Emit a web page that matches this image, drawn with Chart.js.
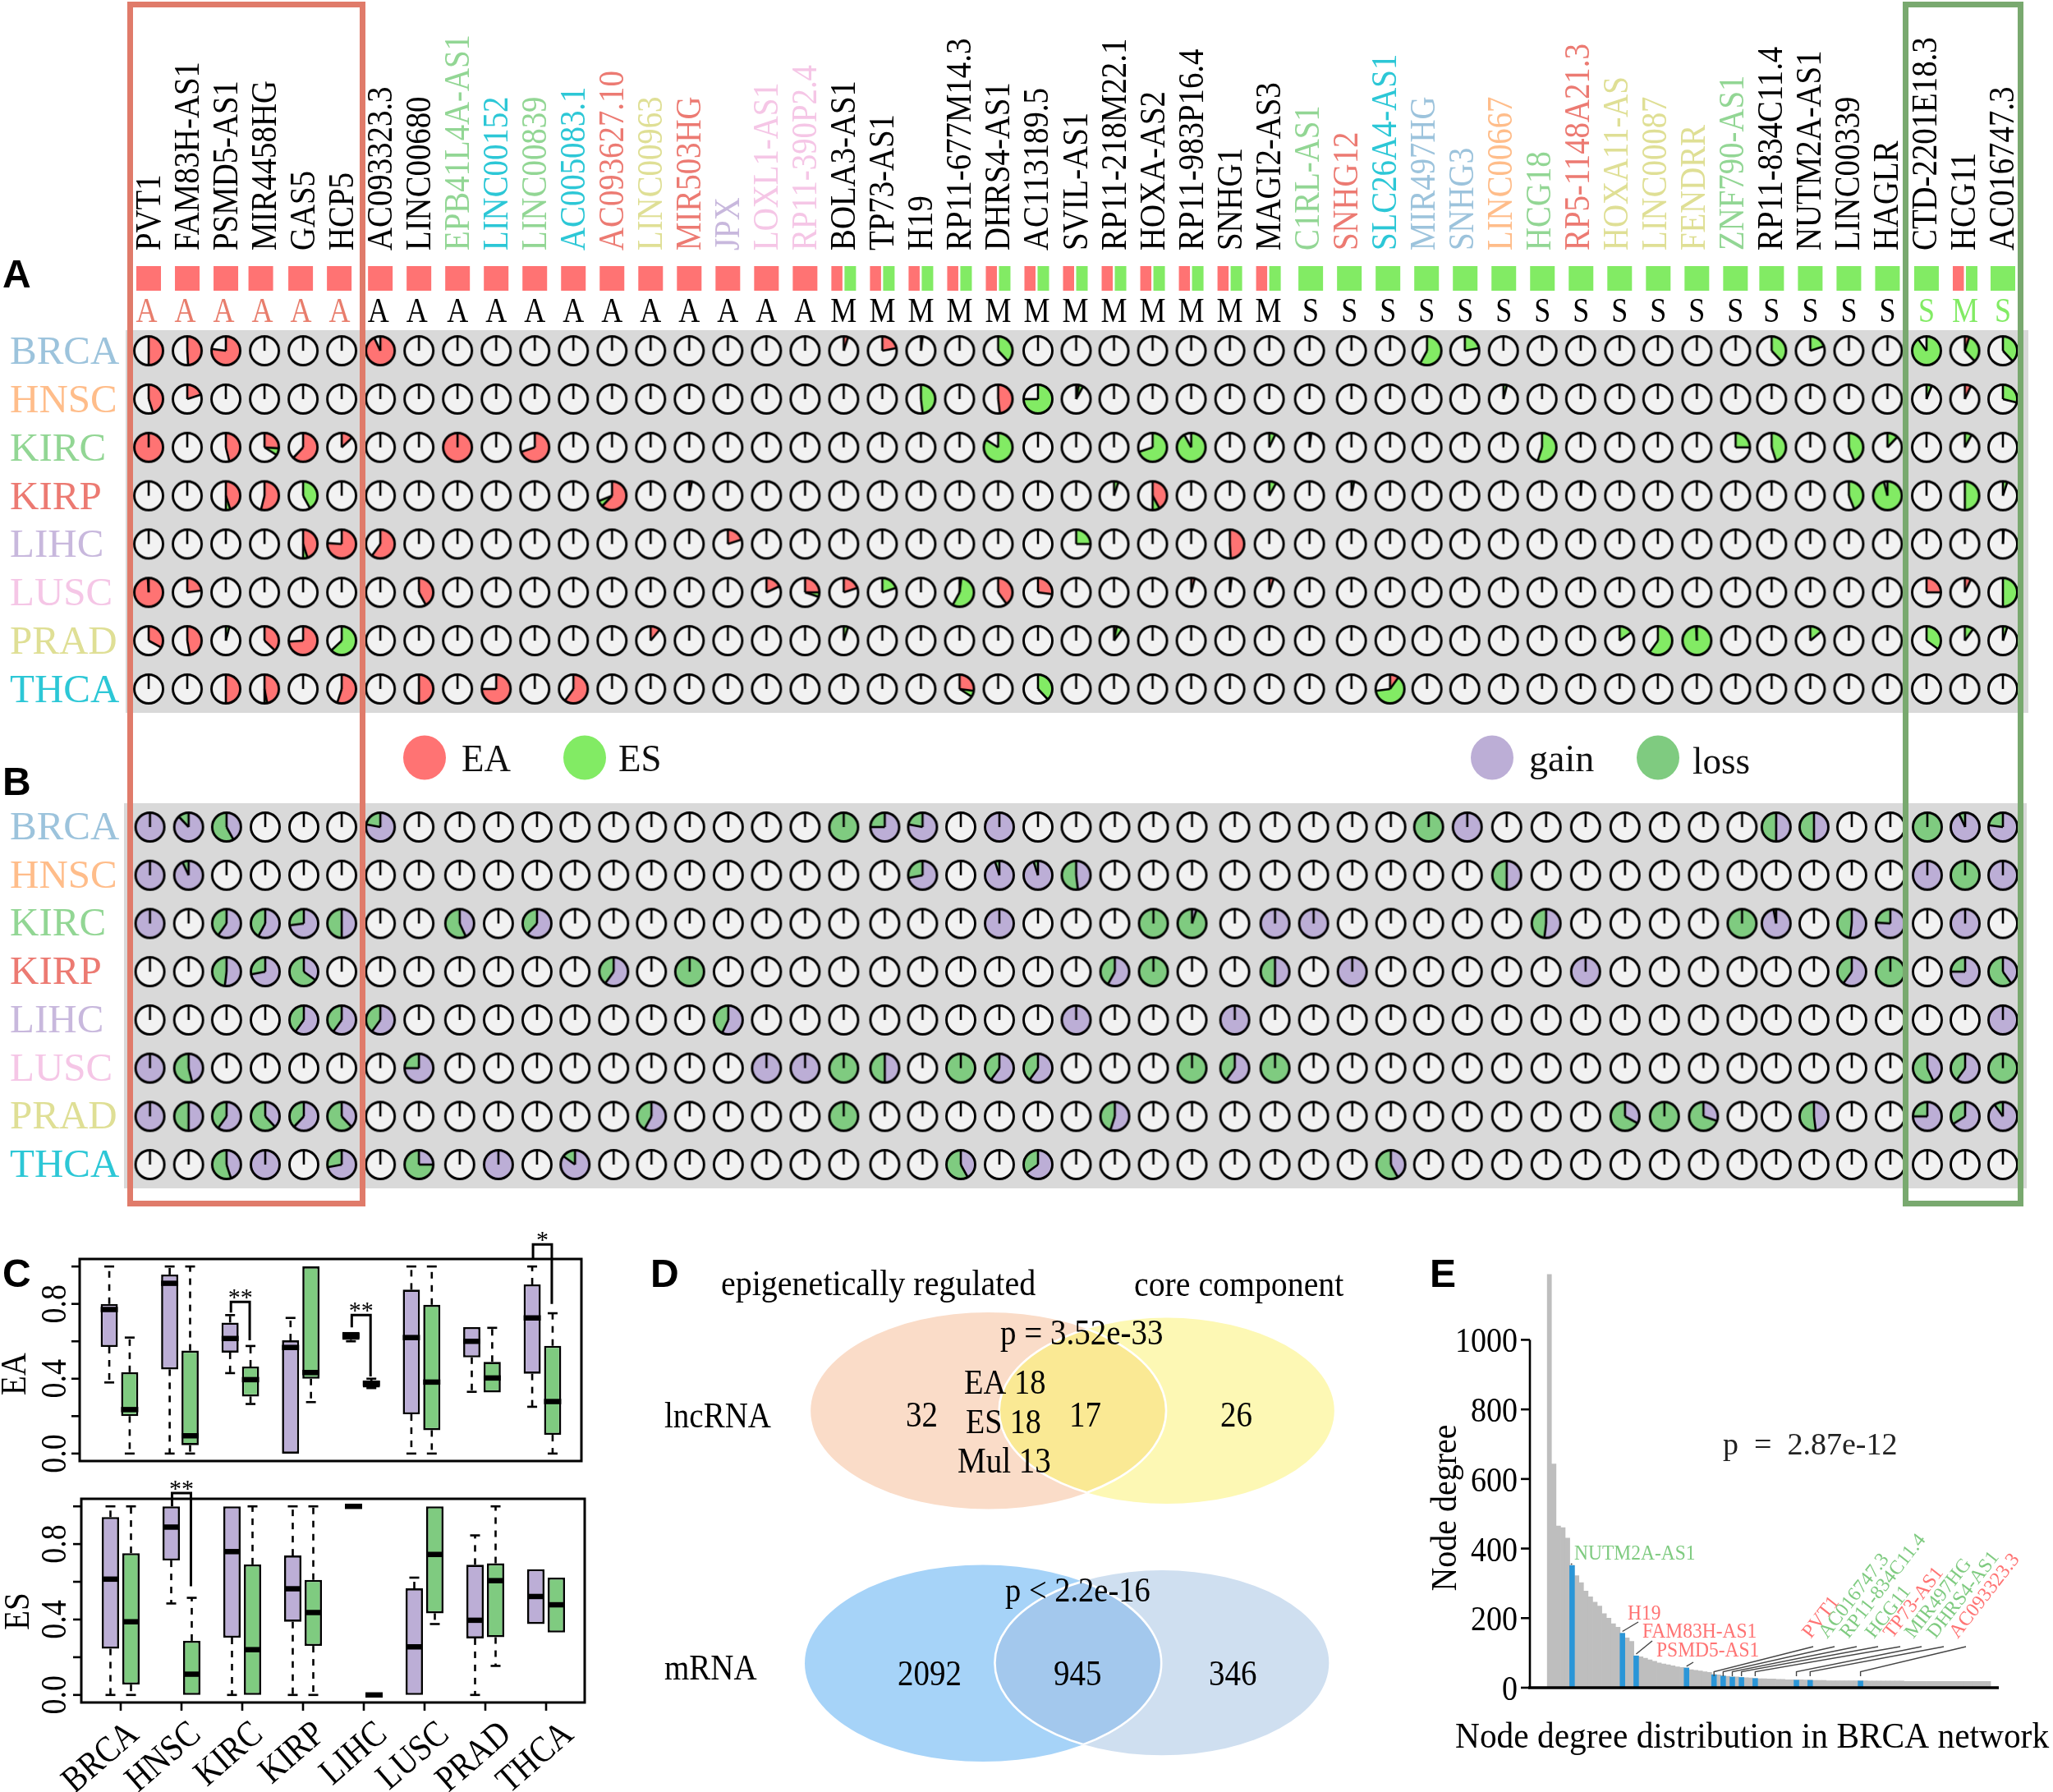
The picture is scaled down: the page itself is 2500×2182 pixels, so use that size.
<!DOCTYPE html>
<html>
<head>
<meta charset="utf-8">
<title>Epigenetically regulated lncRNAs</title>
<script src="https://cdn.jsdelivr.net/npm/chart.js@4"></script>
<style>
  body { margin: 0; background: #fff; width: 2500px; height: 2182px; position: relative; overflow: hidden; }
  canvas { position: absolute; left: 0; top: 0; }
  .hl { position: absolute; box-sizing: border-box; border: 7px solid; z-index: 5; }
</style>
</head>
<body>
<div class="hl" style="left:155px;top:2px;width:290px;height:1467px;border-color:#e07b6a"></div>
<div class="hl" style="left:2317px;top:2px;width:147px;height:1467px;border-color:#79a96f"></div>
<script>
const PAGE_W = 2500, PAGE_H = 2182;
const SERIF = '"Liberation Serif"';

// panels A and B
const genes = ['PVT1','FAM83H-AS1','PSMD5-AS1','MIR4458HG','GAS5','HCP5','AC093323.3','LINC00680','EPB41L4A-AS1','LINC00152','LINC00839','AC005083.1','AC093627.10','LINC00963','MIR503HG','JPX','LOXL1-AS1','RP11-390P2.4',
  'BOLA3-AS1','TP73-AS1','H19','RP11-677M14.3','DHRS4-AS1','AC113189.5','SVIL-AS1','RP11-218M22.1','HOXA-AS2','RP11-983P16.4','SNHG1','MAGI2-AS3',
  'C1RL-AS1','SNHG12','SLC26A4-AS1','MIR497HG','SNHG3','LINC00667','HCG18','RP5-1148A21.3','HOXA11-AS','LINC00087','FENDRR','ZNF790-AS1','RP11-834C11.4','NUTM2A-AS1','LINC00339','HAGLR','CTD-2201E18.3','HCG11','AC016747.3'];
const geneClass = ['A','A','A','A','A','A','A','A','A','A','A','A','A','A','A','A','A','A',
  'M','M','M','M','M','M','M','M','M','M','M','M',
  'S','S','S','S','S','S','S','S','S','S','S','S','S','S','S','S','S','M','S'];
const geneTissue = [-1,-1,-1,-1,-1,-1,-1,-1,2,7,2,7,3,6,3,4,5,5,
  -1,-1,-1,-1,-1,-1,-1,-1,-1,-1,-1,-1,
  2,3,7,0,0,1,2,3,6,6,6,2,-1,-1,-1,-1,-1,-1,-1];
const tissues = ['BRCA','HNSC','KIRC','KIRP','LIHC','LUSC','PRAD','THCA'];
const tissueColors = ['#9cc3dc','#ffbd8a','#92d694','#ec7a72','#c8b8dd','#f5c6e6','#dfdf95','#2cc7d6'];

// fraction of each pie, as [gene index, fraction]; genes not listed are empty
const ea_BRCA = [[0,.5],[1,.49],[2,.77],[6,.93],[18,.05],[19,.22],[20,.02],[47,.05]];
const es_BRCA = [[22,.38],[33,.58],[34,.22],[42,.38],[43,.2],[46,.9],[47,.33],[48,.38]];
const ea_HNSC = [[0,.45],[1,.2],[22,.48],[24,.03],[47,.07]];
const es_HNSC = [[20,.48],[23,.75],[24,.05],[35,.04],[46,.06],[48,.29]];
const ea_KIRC = [[0,1],[2,.46],[3,.26],[4,.62],[5,.13],[8,1],[10,.7]];
const es_KIRC = [[3,.08],[22,.84],[26,.7],[27,.92],[29,.07],[30,.02],[36,.55],[41,.25],[42,.45],[44,.44],[45,.12],[47,.08]];
const ea_KIRP = [[2,.45],[3,.54],[12,.62],[14,.03],[26,.42]];
const es_KIRP = [[2,.05],[4,.42],[12,.07],[25,.05],[26,.08],[29,.08],[31,.03],[37,.01],[44,.44],[45,.96],[47,.5],[48,.05]];
const ea_LIHC = [[4,.45],[5,.76],[6,.6],[15,.2],[28,.49]];
const es_LIHC = [[4,.05],[24,.25],[48,.01]];
const ea_LUSC = [[0,.99],[1,.23],[7,.42],[16,.18],[17,.25],[18,.2],[21,.02],[22,.4],[23,.27],[27,.04],[29,.05],[46,.25],[47,.07]];
const es_LUSC = [[17,.05],[19,.2],[21,.56],[28,.02],[48,.5]];
const ea_PRAD = [[0,.33],[1,.47],[3,.37],[4,.74],[13,.11],[25,.03]];
const es_PRAD = [[2,.04],[5,.63],[18,.05],[25,.07],[38,.15],[39,.6],[40,.99],[43,.14],[46,.35],[47,.1],[48,.05]];
const ea_THCA = [[2,.5],[3,.47],[5,.55],[7,.5],[9,.75],[11,.6],[21,.27],[32,.1]];
const es_THCA = [[3,.03],[21,.07],[23,.38],[32,.63]];

const gain_BRCA = [[0,1],[1,.88],[2,.42],[6,.78],[19,.75],[20,.78],[22,1],[34,1],[42,.5],[43,.5],[47,.93],[48,.77]];
const loss_BRCA = [[1,.12],[2,.58],[6,.22],[18,1],[19,.25],[20,.22],[33,1],[42,.5],[43,.5],[46,1],[47,.07],[48,.23]];
const gain_HNSC = [[0,1],[1,.93],[20,.72],[22,.95],[23,.95],[24,.48],[35,.5],[46,1],[48,1]];
const loss_HNSC = [[1,.07],[20,.28],[22,.05],[23,.05],[24,.52],[35,.5],[47,1]];
const gain_KIRC = [[0,1],[2,.6],[3,.58],[4,.73],[5,.5],[8,.43],[10,.62],[22,1],[27,.05],[29,1],[30,1],[36,.52],[42,.97],[44,.52],[45,.76],[47,1]];
const loss_KIRC = [[2,.4],[3,.42],[4,.27],[5,.5],[8,.57],[10,.38],[26,1],[27,.95],[36,.48],[41,1],[42,.03],[44,.48],[45,.24]];
const gain_KIRP = [[2,.52],[3,.72],[4,.35],[12,.6],[25,.58],[29,.5],[31,1],[37,1],[44,.6],[47,.75],[48,.4]];
const loss_KIRP = [[2,.48],[3,.28],[4,.65],[12,.4],[14,1],[25,.42],[26,1],[29,.5],[44,.4],[45,1],[47,.25],[48,.6]];
const gain_LIHC = [[4,.6],[5,.6],[6,.6],[15,.57],[24,1],[28,1],[48,1]];
const loss_LIHC = [[4,.4],[5,.4],[6,.4],[15,.43]];
const gain_LUSC = [[0,1],[1,.46],[7,.75],[16,1],[17,1],[19,.5],[22,.6],[23,.6],[28,.6],[46,.43],[47,.6]];
const loss_LUSC = [[1,.54],[7,.25],[18,1],[19,.5],[21,1],[22,.4],[23,.4],[27,1],[28,.4],[29,1],[46,.57],[47,.4],[48,1]];
const gain_PRAD = [[0,1],[1,.5],[2,.6],[3,.38],[4,.62],[5,.38],[13,.58],[25,.55],[38,.33],[40,.3],[43,.48],[46,.75],[47,.66],[48,.9]];
const loss_PRAD = [[1,.5],[2,.4],[3,.62],[4,.38],[5,.62],[13,.42],[18,1],[25,.45],[38,.67],[39,1],[40,.7],[43,.52],[46,.25],[47,.34],[48,.1]];
const gain_THCA = [[2,.45],[3,1],[5,.72],[7,.25],[9,1],[11,.85],[21,.42],[23,.65],[32,.42]];
const loss_THCA = [[2,.55],[5,.28],[7,.75],[11,.15],[21,.58],[23,.35],[32,.58]];

// panel C, order follows tissues
const eaGainQ1 = [.57,.45,.54,0,.608,.21,.514,.427];
const eaGainQ3 = [.80,.957,.70,.605,.65,.876,.676,.904];
const eaGainMed = [.77,.91,.615,.567,.63,.62,.60,.725];
const eaGainLo = [.38,0,.43,0,.60,0,.33,.25];
const eaGainHi = [1,1,.74,.725,.65,1,.676,1];
const eaLossQ1 = [.20,.045,.305,.40,.353,.125,.327,.10];
const eaLossQ3 = [.435,.55,.465,1,.39,.795,.49,.576];
const eaLossMed = [.235,.095,.395,.433,.375,.382,.404,.278];
const eaLossLo = [0,0,.265,.275,.35,0,.327,0];
const eaLossHi = [.62,1,.575,1,.40,1,.672,.75];
const esGainQ1 = [.245,.713,.304,.388,.995,0,.30,.376];
const esGainQ3 = [.943,1,1,.739,1,.565,.69,.667];
const esGainMed = [.614,.89,.76,.563,1,.255,.396,.522];
const esGainLo = [0,.485,0,0,.995,0,0,.376];
const esGainHi = [1,1,1,1,1,.622,.846,.667];
const esLossQ1 = [.055,0,0,.26,0,.433,.306,.331];
const esLossQ3 = [.752,.287,.692,.61,.005,1,.698,.622];
const esLossMed = [.388,.11,.24,.437,0,.745,.606,.478];
const esLossLo = [0,0,0,0,0,.376,.154,.331];
const esLossHi = [1,.515,1,1,.005,1,1,.622];
// [tissue index, bracket top, left leg end, right leg end, stars]
const eaBrackets = [[2,.811,.754,.605,'**'],[4,.74,.675,.412,'**'],[7,1.118,1.04,.80,'*']];
const esBrackets = [[1,1.07,1,.576,'**']];
const boxTicks = [0,.2,.4,.6,.8,1];
const boxTickLabels = ['0.0','','0.4','','0.8',''];

// panel D, in axis units of the venn chart
const vennCx = [34.4,67.8,33.4,66.9];
const vennCy = [21.9,21.9,78.1,78];
const vennRx = [33.3,31.4,33.4,31.3];
const vennRy = [21.9,20.7,21.9,20.6];
const vennColors = ['#fadcc8','#fdf8b4','#a6d3f8','#cfdff0'];
const vennOverlap = ['#fae994','#a3c8ed'];

// panel E
const nodeDegree = [1188,643,465,460,430,352,322,302,278,261,
  246,235,213,200,184,174,157,143,133,92,
  89,85,80,76,71,68,66,63,60,58,
  57,52,50,48,46,44,38,37,34,33,
  31,31,30,29,28,27,26,26,25,25,
  24,24,23,23,22.5,23,22,22,21,21,
  21,20,20,20,20,20,20,20,20,20,
  19,19,19,19,19,19,19,19,18,18,
  18,18,18,18,18,18,18,18,18,18,
  18,18,18,18,18,18,18];
const degreeTicks = [0,200,400,600,800,1000];
const markedBars = [5,16,19,30,36,38,40,42,45,54,57,68];
const markedNames = ['NUTM2A-AS1','H19','FAM83H-AS1','PSMD5-AS1','PVT1','AC016747.3','RP11-834C11.4','HCG11','TP73-AS1','MIR497HG','DHRS4-AS1','AC093323.3'];

// the columns of the original are not quite evenly spaced, pixels per gene
const colShiftA = [0,0,0,0,0,0,0,0,0,0,0,0,0,0,0,0,0,0,0,0,0,0,0,
  1.5,1,0,0,0,0,1,3,7,7,5,4,4,4,4,4.5,4,4.5,4.6,1.5,1.5,1.5,1.5,2,1.6,1];
const colShiftB = [1.6,1.6,.8,.9,.9,0,0,0,2.6,2.7,2.7,2,2,1,.5,.5,0,0,0,3,2,1.5,1.5,
  1.5,1,1,1,1,6,8,8,8,8,7,7,8,9,10,11,12,12.5,12.5,7,6,5,5,3,2,1];
const trackShift = [0,0,0,-4.5,-3,-3,0,0,0,0,0,0,0,0,0,0,0,0,0,0,0,0,0,0,0,0,0,0,0,0,
  4.5,4.5,4.5,4.5,4.5,4.5,4.5,4.5,4.5,4.5,4.5,4.5,1.5,1.5,1.5,1.5,2,2,1];

const RED = '#ff7373', LIME = '#82eb64', GAIN = '#bcaed6', LOSS = '#7fcb80';

function addCanvas() {
  const c = document.createElement('canvas');
  c.width = PAGE_W;
  c.height = PAGE_H;
  document.body.appendChild(c);
  return c;
}

function box(l, t, r, b) {
  return { left: l, top: t, right: PAGE_W - r, bottom: PAGE_H - b };
}

function note(ctx, text, x, y, size, color, opt = {}) {
  ctx.save();
  ctx.translate(x, y);
  if (opt.rot) ctx.rotate(opt.rot * Math.PI / 180);
  ctx.scale(1, opt.tall || 1);
  ctx.font = (opt.weight || '') + ' ' + size + 'px ' + (opt.family || SERIF);
  ctx.fillStyle = color;
  ctx.textAlign = opt.align || 'left';
  ctx.textBaseline = 'alphabetic';
  ctx.fillText(text, 0, 0);
  ctx.restore();
}

function baseOptions(padding) {
  return {
    responsive: false,
    devicePixelRatio: 1,
    animation: false,
    events: [],
    layout: { padding },
    plugins: { legend: { display: false }, tooltip: { enabled: false } }
  };
}

const pieCache = {};
function pieImage(a, b, colA, colB) {
  const key = [a, b, colA, colB].join();
  if (pieCache[key]) return pieCache[key];
  const c = document.createElement('canvas');
  c.width = c.height = 44;
  const g = c.getContext('2d');
  const R = 17.5, o = 22, start = -Math.PI / 2, TAU = Math.PI * 2;
  g.fillStyle = '#f2f2f2';
  g.beginPath(); g.arc(o, o, R, 0, TAU); g.fill();
  const wedge = (from, to, col) => {
    g.fillStyle = col;
    g.beginPath(); g.moveTo(o, o);
    g.arc(o, o, R, start + from * TAU, start + to * TAU);
    g.closePath(); g.fill();
  };
  if (a > 0) wedge(0, a, colA);
  if (b > 0) wedge(a, a + b, colB);
  g.strokeStyle = '#000';
  g.lineWidth = 2.6;
  const spokes = [0];
  if (a > 0 && a < 1) spokes.push(a);
  if (b > 0 && a + b < 1) spokes.push(a + b);
  spokes.forEach(s => {
    g.beginPath(); g.moveTo(o, o);
    g.lineTo(o + R * Math.cos(start + s * TAU), o + R * Math.sin(start + s * TAU));
    g.stroke();
  });
  g.lineWidth = 2.9;
  g.beginPath(); g.arc(o, o, R, 0, TAU); g.stroke();
  pieCache[key] = c;
  return c;
}

function cellValue(list, col) {
  const hit = list.find(p => p[0] === col);
  return hit ? hit[1] : 0;
}

function pieChart(padding, firstLists, secondLists, colA, colB, shift, labelDrop, extra) {
  const points = [], images = [];
  tissues.forEach((t, r) => {
    genes.forEach((g, col) => {
      points.push({ x: g, y: t });
      images.push(pieImage(cellValue(firstLists[r], col), cellValue(secondLists[r], col), colA, colB));
    });
  });
  const opts = baseOptions(padding);
  opts.scales = {
    x: { type: 'category', labels: genes, offset: true, display: false },
    y: { type: 'category', labels: tissues, offset: true, display: false }
  };
  return new Chart(addCanvas(), {
    type: 'scatter',
    data: { datasets: [{ data: points, pointStyle: images, pointRadius: 18, clip: false }] },
    options: opts,
    plugins: [{
      id: 'panelDecor',
      afterDatasetsUpdate(chart) {
        chart.getDatasetMeta(0).data.forEach((p, i) => { p.x += shift[i % genes.length]; });
      },
      beforeDatasetsDraw(chart) {
        extra(chart);
        tissues.forEach((t, r) => {
          note(chart.ctx, t, 12, chart.scales.y.getPixelForValue(r) + labelDrop, 49, tissueColors[r]);
        });
      }
    }]
  });
}

// panel A
pieChart({ left: 157.5, top: 397.65, right: 38.5, bottom: PAGE_H - 868.35 },
  [ea_BRCA, ea_HNSC, ea_KIRC, ea_KIRP, ea_LIHC, ea_LUSC, ea_PRAD, ea_THCA],
  [es_BRCA, es_HNSC, es_KIRC, es_KIRP, es_LIHC, es_LUSC, es_PRAD, es_THCA],
  RED, LIME, colShiftA, 16,
  chart => {
    const ctx = chart.ctx, xs = chart.scales.x;
    ctx.fillStyle = '#d9d9d9';
    ctx.fillRect(153, 402, 2317, 466);
    genes.forEach((g, i) => {
      const base = xs.getPixelForValue(i);
      const x = base + trackShift[i];
      const col = geneTissue[i] < 0 ? '#000' : tissueColors[geneTissue[i]];
      note(ctx, g, base + 14, 305, 38.8, col, { rot: -90, tall: 1.13 });
      if (geneClass[i] === 'A') { ctx.fillStyle = RED; ctx.fillRect(x - 15, 324, 30, 30); }
      else if (geneClass[i] === 'S') { ctx.fillStyle = LIME; ctx.fillRect(x - 15, 324, 30, 30); }
      else {
        ctx.fillStyle = RED; ctx.fillRect(x - 15, 324, 13.5, 30);
        ctx.fillStyle = LIME; ctx.fillRect(x + 1, 324, 14, 30);
      }
      const letterCol = i < 6 ? '#e87d6c' : (i >= 46 ? LIME : '#000');
      note(ctx, geneClass[i], base + (i < 8 ? -2.5 : trackShift[i]), 392, 36, letterCol, { align: 'center', tall: 1.16 });
    });
    note(ctx, 'A', 3, 350, 48, '#000', { weight: 'bold', family: '"Liberation Sans"' });
  });

// panel B
pieChart({ left: 157.5, top: 977.65, right: 38.5, bottom: PAGE_H - 1447.4 },
  [gain_BRCA, gain_HNSC, gain_KIRC, gain_KIRP, gain_LIHC, gain_LUSC, gain_PRAD, gain_THCA],
  [loss_BRCA, loss_HNSC, loss_KIRC, loss_KIRP, loss_LIHC, loss_LUSC, loss_PRAD, loss_THCA],
  GAIN, LOSS, colShiftB, 15,
  chart => {
    const ctx = chart.ctx;
    ctx.fillStyle = '#d9d9d9';
    ctx.fillRect(151, 978, 2317, 469);
    const dot = (x, col) => {
      ctx.fillStyle = col;
      ctx.beginPath(); ctx.ellipse(x, 922.5, 26, 27, 0, 0, Math.PI * 2); ctx.fill();
    };
    dot(517, RED); dot(712, LIME); dot(1817, GAIN); dot(2019, LOSS);
    note(ctx, 'EA', 562, 939, 45, '#111', { tall: 1.03 });
    note(ctx, 'ES', 753, 939, 45, '#111', { tall: 1.03 });
    note(ctx, 'gain', 1862, 939, 46, '#111', { tall: 1.03 });
    note(ctx, 'loss', 2061, 942, 45, '#111', { tall: 1.03 });
    note(ctx, 'B', 3, 968, 48, '#000', { weight: 'bold', family: '"Liberation Sans"' });
  });

// panel C
function boxChart(area, frame, gain, loss, brackets, title, showNames) {
  const series = [gain, loss];
  const opts = baseOptions(box(area.l, area.t, area.r, area.b));
  opts.scales = {
    x: { type: 'category', labels: tissues, offset: true, display: false },
    y: { type: 'linear', min: -0.04, max: 1.04, display: false }
  };
  return new Chart(addCanvas(), {
    type: 'bar',
    data: {
      labels: tissues,
      datasets: series.map((s, k) => ({
        data: tissues.map((t, i) => [s.q1[i], s.q3[i]]),
        backgroundColor: k ? LOSS : GAIN,
        borderColor: '#000',
        borderWidth: 2.6,
        borderSkipped: false,
        categoryPercentage: 0.676,
        barPercentage: 0.84
      }))
    },
    options: opts,
    plugins: [{
      id: 'boxExtras',
      afterDatasetsDraw(chart) {
        const ctx = chart.ctx, ys = chart.scales.y, xs = chart.scales.x, a = chart.chartArea;
        ctx.save();
        ctx.strokeStyle = '#000';
        series.forEach((s, k) => {
          chart.getDatasetMeta(k).data.forEach((bar, i) => {
            const half = bar.width / 2;
            [[s.q3[i], s.hi[i]], [s.q1[i], s.lo[i]]].forEach(([from, to]) => {
              if (from === to) return;
              ctx.lineWidth = 2.6;
              ctx.setLineDash([8, 8]);
              ctx.beginPath(); ctx.moveTo(bar.x, ys.getPixelForValue(from)); ctx.lineTo(bar.x, ys.getPixelForValue(to)); ctx.stroke();
              ctx.setLineDash([]);
              ctx.beginPath(); ctx.moveTo(bar.x - 6, ys.getPixelForValue(to)); ctx.lineTo(bar.x + 6, ys.getPixelForValue(to)); ctx.stroke();
            });
            ctx.lineWidth = 6.5;
            ctx.beginPath(); ctx.moveTo(bar.x - half, ys.getPixelForValue(s.med[i])); ctx.lineTo(bar.x + half, ys.getPixelForValue(s.med[i])); ctx.stroke();
          });
        });
        ctx.lineWidth = 3;
        ctx.strokeRect(frame.l, a.top, frame.r - frame.l, a.bottom - a.top);
        boxTicks.forEach((v, i) => {
          const y = ys.getPixelForValue(v);
          ctx.lineWidth = 2.6;
          ctx.beginPath(); ctx.moveTo(frame.l - 10, y); ctx.lineTo(frame.l, y); ctx.stroke();
          if (boxTickLabels[i]) note(ctx, boxTickLabels[i], 80, y, 38, '#000', { rot: -90, tall: 1.16, align: 'center' });
        });
        note(ctx, title.text, title.x, title.y, 39, '#000', { rot: -90, tall: 1.16, align: 'center' });
        brackets.forEach(br => {
          const x0 = chart.getDatasetMeta(0).data[br[0]].x + 1;
          const x1 = chart.getDatasetMeta(1).data[br[0]].x - 1;
          const top = ys.getPixelForValue(br[1]);
          ctx.lineWidth = 3;
          ctx.beginPath();
          ctx.moveTo(x0, ys.getPixelForValue(br[2]));
          ctx.lineTo(x0, top);
          ctx.lineTo(x1, top);
          ctx.lineTo(x1, ys.getPixelForValue(br[3]));
          ctx.stroke();
          note(ctx, br[4], (x0 + x1) / 2, top + 4, 30, '#000', { align: 'center' });
        });
        if (showNames) {
          tissues.forEach((t, i) => {
            const x = xs.getPixelForValue(i);
            ctx.lineWidth = 2.6;
            ctx.beginPath(); ctx.moveTo(x, a.bottom); ctx.lineTo(x, a.bottom + 10); ctx.stroke();
            note(ctx, t, x + 24 + i * 1.6, 2115, 39, '#000', { rot: -41, align: 'right', tall: 1.15 });
          });
        }
        ctx.restore();
      }
    }]
  });
}

boxChart({ l: 108.7, r: 697.3, t: 1533, b: 1779 }, { l: 97, r: 708 },
  { q1: eaGainQ1, q3: eaGainQ3, med: eaGainMed, lo: eaGainLo, hi: eaGainHi },
  { q1: eaLossQ1, q3: eaLossQ3, med: eaLossMed, lo: eaLossLo, hi: eaLossHi },
  eaBrackets, { text: 'EA', x: 31, y: 1673 }, false);
boxChart({ l: 110, r: 702, t: 1825, b: 2073 }, { l: 99, r: 712 },
  { q1: esGainQ1, q3: esGainQ3, med: esGainMed, lo: esGainLo, hi: esGainHi },
  { q1: esLossQ1, q3: esLossQ3, med: esLossMed, lo: esLossLo, hi: esLossHi },
  esBrackets, { text: 'ES', x: 35, y: 1962 }, true);

// panel D
const vennOpts = baseOptions(box(980, 1598, 1630, 2145));
vennOpts.scales = {
  x: { type: 'linear', min: 0, max: 100, display: false },
  y: { type: 'linear', min: 0, max: 100, reverse: true, display: false }
};
new Chart(addCanvas(), {
  type: 'scatter',
  data: { datasets: [{ data: vennCx.map((x, i) => ({ x, y: vennCy[i] })), pointRadius: 0 }] },
  options: vennOpts,
  plugins: [{
    id: 'vennSets',
    afterDatasetsDraw(chart) {
      const ctx = chart.ctx, xs = chart.scales.x, ys = chart.scales.y;
      const path = i => {
        const cx = xs.getPixelForValue(vennCx[i]), cy = ys.getPixelForValue(vennCy[i]);
        const rx = xs.getPixelForValue(vennCx[i] + vennRx[i]) - cx;
        const ry = ys.getPixelForValue(vennCy[i] + vennRy[i]) - cy;
        ctx.beginPath();
        ctx.ellipse(cx, cy, rx, ry, 0, 0, Math.PI * 2);
      };
      [0, 1].forEach(pair => {
        const a = pair * 2, b = a + 1;
        ctx.fillStyle = vennColors[a]; path(a); ctx.fill();
        ctx.fillStyle = vennColors[b]; path(b); ctx.fill();
        ctx.save();
        path(a); ctx.clip();
        ctx.fillStyle = vennOverlap[pair]; path(b); ctx.fill();
        ctx.strokeStyle = '#fff'; ctx.lineWidth = 2.6; path(b); ctx.stroke();
        ctx.restore();
        ctx.save();
        path(b); ctx.clip();
        ctx.strokeStyle = '#fff'; ctx.lineWidth = 2.6; path(a); ctx.stroke();
        ctx.restore();
      });
      const t = (s, x, y, size) => note(ctx, s, x, y, size || 39, '#000', { tall: 1.12 });
      t('epigenetically regulated', 878, 1577, 40);
      t('core component', 1381, 1578, 39.8);
      t('p = 3.52e-33', 1218, 1637, 39);
      t('lncRNA', 809, 1738);
      t('32', 1103, 1737);
      t('EA 18', 1174, 1697, 38.5);
      t('ES 18', 1176, 1745, 38);
      t('Mul 13', 1166, 1793);
      t('17', 1302, 1737);
      t('26', 1486, 1737);
      t('mRNA', 809, 2045);
      t('2092', 1093, 2052);
      t('945', 1283, 2052);
      t('346', 1472, 2052);
      t('p < 2.2e-16', 1224, 1950, 38.5);
      note(ctx, 'C', 3, 1567, 48, '#000', { weight: 'bold', family: '"Liberation Sans"' });
      note(ctx, 'D', 792, 1567, 48, '#000', { weight: 'bold', family: '"Liberation Sans"' });
    }
  }]
});

// panel E
const barOpts = baseOptions(box(1883.7, 1546.7, 2424.5, 2055));
barOpts.scales = {
  x: { type: 'category', offset: true, display: false },
  y: { type: 'linear', min: 0, max: 1200, display: false }
};
const flatLabelAt = [[1917,1899],[1982,1972],[2000,1994],[2017,2017]];
const slantLabelAt = [[2205,1996],[2225,1996],[2251,1996],[2282,1996],[2304,1996],[2330,1996],[2357,1996],[2384,1996]];
new Chart(addCanvas(), {
  type: 'bar',
  data: {
    labels: nodeDegree.map((v, i) => String(i + 1)),
    datasets: [{
      data: nodeDegree.map((v, i) => markedBars.includes(i) ? v : null),
      backgroundColor: '#2a96d8',
      grouped: false,
      barPercentage: 1.18,
      categoryPercentage: 1,
      order: 0
    }, {
      data: nodeDegree,
      backgroundColor: '#bebebe',
      grouped: false,
      barPercentage: 1,
      categoryPercentage: 1,
      order: 1
    }]
  },
  options: barOpts,
  plugins: [{
    id: 'degreeExtras',
    afterDatasetsDraw(chart) {
      const ctx = chart.ctx, xs = chart.scales.x, ys = chart.scales.y;
      ctx.save();
      ctx.strokeStyle = '#000';
      ctx.lineWidth = 2.6;
      ctx.beginPath(); ctx.moveTo(1863, ys.getPixelForValue(1000)); ctx.lineTo(1863, ys.getPixelForValue(0)); ctx.stroke();
      ctx.lineWidth = 3.5;
      ctx.beginPath(); ctx.moveTo(1861, ys.getPixelForValue(0)); ctx.lineTo(2434, ys.getPixelForValue(0)); ctx.stroke();
      ctx.lineWidth = 2.6;
      degreeTicks.forEach(v => {
        const y = ys.getPixelForValue(v);
        ctx.beginPath(); ctx.moveTo(1852, y); ctx.lineTo(1863, y); ctx.stroke();
        note(ctx, String(v), 1848, y + 15, 38, '#000', { align: 'right', tall: 1.1 });
      });
      ctx.strokeStyle = '#444';
      ctx.lineWidth = 1.4;
      const leaders = [[1913,1905],[1995,1975],[2012,1998],[2062,2024]];
      [0, 1, 2, 3].forEach(k => {
        const bx = xs.getPixelForValue(markedBars[k]);
        const by = ys.getPixelForValue(nodeDegree[markedBars[k]]) - 2;
        ctx.beginPath(); ctx.moveTo(bx, by); ctx.lineTo(leaders[k][0], leaders[k][1]); ctx.stroke();
        note(ctx, markedNames[k], flatLabelAt[k][0], flatLabelAt[k][1], 23.5, k === 0 ? LOSS : RED, { tall: 1.05 });
      });
      const slantColors = [RED, LOSS, LOSS, LOSS, RED, LOSS, LOSS, RED];
      const leaderTop = [2208,2234,2261,2287,2314,2340,2367,2394];
      slantLabelAt.forEach((p, j) => {
        const k = j + 4;
        const bx = xs.getPixelForValue(markedBars[k]);
        ctx.beginPath();
        ctx.moveTo(leaderTop[j], 2005);
        ctx.lineTo(bx, 2035.5);
        ctx.lineTo(bx, 2041);
        ctx.stroke();
        note(ctx, markedNames[k], p[0], p[1], 24, slantColors[j], { rot: -52 });
      });
      note(ctx, 'Node degree', 1773, 1836, 40, '#000', { rot: -90, align: 'center', tall: 1.1 });
      note(ctx, 'p  =  2.87e-12', 2098, 1771, 38, '#222');
      note(ctx, 'Node degree distribution in BRCA network', 1772, 2128, 41.4, '#000', { tall: 1.08 });
      note(ctx, 'E', 1741, 1567, 48, '#000', { weight: 'bold', family: '"Liberation Sans"' });
      ctx.restore();
    }
  }]
});
</script>
</body>
</html>
